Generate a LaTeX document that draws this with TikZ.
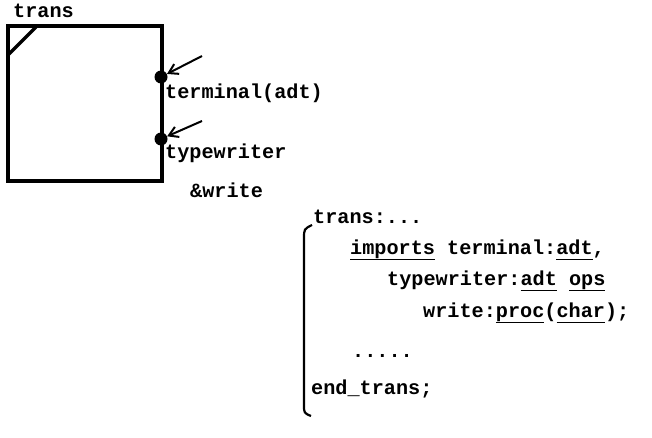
\documentclass[tikz,border=0pt]{standalone}
\usepackage{fontspec}
\setmonofont{Liberation Mono}
\usetikzlibrary{arrows.meta}
\newcommand\ulx[1]{\underline{\vphantom{p}#1}}
\tikzset{
  txt/.style={anchor=base west, inner sep=0pt, font=\ttfamily\bfseries\fontsize{20.2}{23}\selectfont},
  dot/.style={circle, fill=black, inner sep=0pt, minimum size=13pt},
  arr/.style={line width=2pt, -{Straight Barb[length=9pt,width=11pt,line width=2pt]}},
  thick2/.style={line width=3.2pt}
}
\begin{document}
\begin{tikzpicture}[x=1pt,y=-1pt]
\useasboundingbox (0,0) rectangle (652,438);
% module box
\node[draw, thick2, minimum width=154pt, minimum height=155pt, inner sep=0pt] (box) at (85,103.5) {};
\draw[thick2] (8,55) -- (36,27);
\node[txt] (title) at (13,18) {trans};
% ports
\node[dot] (d1) at (161,77) {};
\node[dot] (d2) at (161,139) {};
\coordinate (a1) at (202,56);
\coordinate (a2) at (202,121);
\draw[arr] (a1) -- (d1);
\draw[arr] (a2) -- (d2);
\node[txt] (l1) at (165,99) {terminal(adt)};
\node[txt] (l2) at (165,159) {typewriter};
\node[txt] (l3) at (190,198) {\&write};
% code
\node[txt] (c1) at (313,223) {trans:...};
\node[txt] (c2) at (350,254) {\ulx{imports} terminal:\ulx{adt},};
\node[txt] (c3) at (387,285) {typewriter:\ulx{adt} \ulx{ops}};
\node[txt] (c4) at (423,317) {write:\ulx{proc}(\ulx{char});};
\node[txt] (c5) at (352,357) {.....};
\node[txt] (c6) at (311,394) {end\_trans;};
\draw[line width=2.2pt] (312,225) .. controls (304,229) .. (304,239) -- (304,405) .. controls (304,413) .. (311,416);
\end{tikzpicture}
\end{document}
